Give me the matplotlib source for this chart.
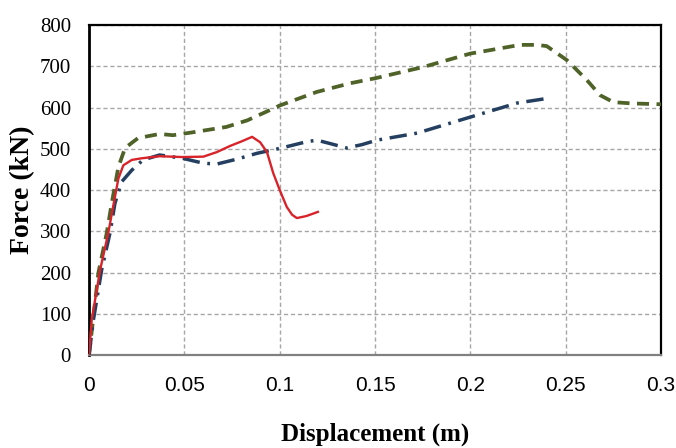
import matplotlib
matplotlib.use("Agg")
import matplotlib.pyplot as plt

# ---- data ----
red_x = [0, 0.0014, 0.0058, 0.0101, 0.0126, 0.0154, 0.018, 0.0224, 0.0276, 0.037,
         0.049, 0.060, 0.067, 0.074, 0.080, 0.0855, 0.0897, 0.0933, 0.0966, 0.100,
         0.1037, 0.1065, 0.109, 0.114, 0.120]
red_y = [0, 85, 206, 296, 359, 428, 460, 473, 477, 482,
         480, 481, 492, 507, 518, 529, 516, 492, 441, 400,
         359, 340, 332, 337, 347]

blue_x = [0, 0.0023, 0.0066, 0.011, 0.0136, 0.0171, 0.0224, 0.0283, 0.037, 0.049,
          0.060, 0.067, 0.0776, 0.088, 0.100, 0.114, 0.1195, 0.127, 0.135, 0.143,
          0.151, 0.172, 0.200, 0.2245, 0.240]
blue_y = [0, 85, 206, 296, 368, 420, 448, 473, 485, 477,
          465, 463, 475, 489, 501, 517, 521, 512, 502, 510,
          521, 538, 577, 611, 622]

green_x = [0, 0.0005, 0.0049, 0.0093, 0.0119, 0.0154, 0.0189, 0.0257, 0.037, 0.044,
           0.053, 0.072, 0.083, 0.093, 0.100, 0.1195, 0.137, 0.150, 0.175, 0.200,
           0.210, 0.226, 0.235, 0.240, 0.2506, 0.261, 0.268, 0.275, 0.285, 0.300]
green_y = [0, 20, 199, 296, 368, 456, 502, 526, 536, 533,
           539, 553, 569, 590, 605, 638, 659, 671, 698, 731,
           739, 752, 752, 749, 715, 667, 630, 613, 610, 608]

x_ticks = [0, 0.05, 0.1, 0.15, 0.2, 0.25, 0.3]
x_tick_labels = ["0", "0.05", "0.1", "0.15", "0.2", "0.25", "0.3"]
y_ticks = [0, 100, 200, 300, 400, 500, 600, 700, 800]

fig = plt.figure(figsize=(6.76, 4.48), dpi=100)
ax = fig.add_axes([0.1317, 0.2076, 0.978 - 0.1317, 0.944 - 0.2076])

ax.plot(green_x, green_y, color="#4F6228", lw=2.7, ls=(0, (3.2, 2.0)), zorder=3)
ax.plot(blue_x, blue_y, color="#243F60", lw=2.5, ls=(0, (5, 2.2, 0.8, 2.2)), zorder=4)
ax.plot(red_x, red_y, color="#D9232A", lw=1.7, zorder=5)

ax.set_xlim(0, 0.3)
ax.set_ylim(0, 800)
ax.set_xticks(x_ticks)
ax.set_xticklabels(x_tick_labels)
ax.set_yticks(y_ticks)

ax.grid(True, color="#A6A6A6", lw=1.0, ls=(0, (3, 2)))
ax.set_axisbelow(True)

for s in ["left", "top", "right"]:
    ax.spines[s].set_color("black")
    ax.spines[s].set_linewidth(1.6)
ax.spines["left"].set_linewidth(2.0)
ax.spines["bottom"].set_color("#808080")
ax.spines["bottom"].set_linewidth(1.6)

ax.tick_params(axis="both", length=0)
ax.tick_params(axis="y", pad=13)
ax.tick_params(axis="x", pad=15)
for lab in ax.get_yticklabels():
    lab.set_fontfamily(["Liberation Serif", "DejaVu Serif"])
    lab.set_fontsize(15)
for lab in ax.get_xticklabels():
    lab.set_fontfamily(["Liberation Sans", "DejaVu Sans"])
    lab.set_fontsize(15)

ax.set_xlabel("Displacement (m)", family=["Liberation Serif", "DejaVu Serif"],
              fontsize=18, fontweight="bold", labelpad=20)
ax.set_ylabel("Force (kN)", family=["Liberation Serif", "DejaVu Serif"],
              fontsize=20, fontweight="bold", labelpad=3)

fig.savefig("out.png", dpi=100)
